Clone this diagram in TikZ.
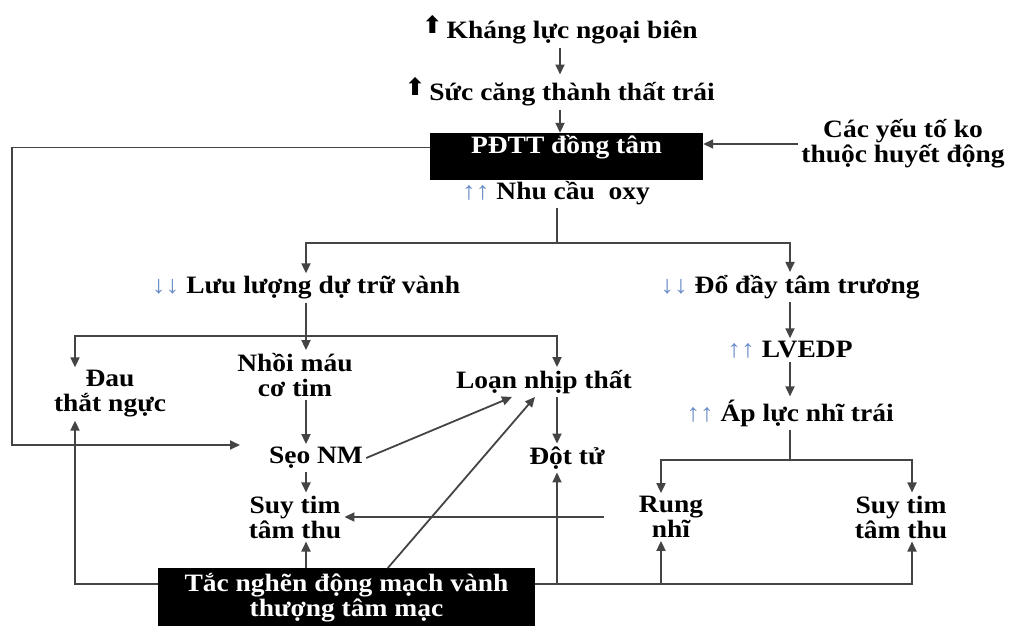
\documentclass[tikz,border=0pt]{standalone}
\usepackage{fontspec}
\setmainfont{Liberation Serif}[FakeStretch=1.1]
\newfontfamily\symfont{DejaVu Sans}
\usetikzlibrary{arrows.meta}
\definecolor{linec}{RGB}{68,68,68}
\definecolor{arrc}{RGB}{105,140,200}
\newcommand{\upp}{{\color{arrc}\mdseries ↑↑}}
\newcommand{\dnn}{{\color{arrc}\mdseries ↓↓}}
\newcommand{\bigup}{\raisebox{5pt}{\symfont\fontsize{24}{24}\selectfont ⬆}}

\begin{document}
\begin{tikzpicture}[x=1pt,y=-1pt,
    lbl/.style={font=\bfseries\fontsize{25}{25}\selectfont, align=center, inner sep=3pt},
    blk/.style={lbl, fill=black, text=white},
    ln/.style={draw=linec, line width=1.8pt},
    arr/.style={ln, -{Triangle[length=10pt,width=9pt]}}]
    \useasboundingbox (0,0) rectangle (1014,625);
    % top chain
    \node [lbl] (khang) at (560,30) {\bigup\,Kháng lực ngoại biên};
    \node [lbl] (sucang) at (560,92) {\bigup\,Sức căng thành thất trái};
    \node [blk,minimum width=273pt,inner sep=4.5pt,text height=16pt,text depth=22pt] (pdtt) at (566.5,156.5) {PĐTT đồng tâm};
    \node [lbl] (cacyeu) at (903,144) {Các yếu tố ko\\thuộc huyết động};
    \node [lbl] (nhucau) at (556,193) {\upp\ Nhu cầu\ \ oxy};
    % two branches
    \node [lbl] (luu) at (306,288) {\dnn\ Lưu lượng dự trữ vành};
    \node [lbl] (doday) at (790,287) {\dnn\ Đổ đầy tâm trương};
    \node [lbl] (lvedp) at (790,350) {\upp\ LVEDP};
    \node [lbl] (apluc) at (790,413) {\upp\ Áp lực nhĩ trái};
    \node [lbl] (dau) at (110,394) {Đau\\thắt ngực};
    \node [lbl] (nhoi) at (295,375) {Nhồi máu\\cơ tim};
    \node [lbl] (loan) at (544,382) {Loạn nhịp thất};
    \node [lbl] (seo) at (316,458) {Sẹo NM};
    \node [lbl] (dotu) at (567,458) {Đột tử};
    \node [lbl] (suy1) at (295,517) {Suy tim\\tâm thu};
    \node [lbl] (rung) at (671,517) {Rung\\nhĩ};
    \node [lbl] (suy2) at (901,517) {Suy tim\\tâm thu};
    \node [blk,minimum width=377pt,inner sep=5pt,anchor=north] (tac) at (346.5,568) {Tắc nghẽn động mạch vành\\thượng tâm mạc};
    \coordinate (split1) at (557,243);
    \coordinate (split2) at (306,336);
    \coordinate (split3) at (790,460);
    \coordinate (fbcorner) at (12,445);
    \coordinate (fbend) at (240,445);
    \coordinate (botl) at ([yshift=-16pt]tac.north west);
    \coordinate (botr) at ([yshift=-16pt]tac.north east);
    % arrows
    \draw [arr] (khang) -- (sucang);
    \draw [arr] (sucang) -- (sucang |- pdtt.north);
    \draw [arr] (cacyeu.west) -- (cacyeu.west -| pdtt.east);
    \draw [arr] ([yshift=6pt]pdtt.base west) -| (fbcorner) -- (fbend);
    \draw [ln] (nhucau.south -| split1) -- (split1);
    \draw [arr] (split1) -| (luu.north);
    \draw [arr] (split1) -| (doday.north);
    \draw [arr] (doday) -- (lvedp);
    \draw [arr] (lvedp) -- (apluc);
    \draw [ln] (apluc) -- (split3);
    \draw [arr] (split3) -| ([xshift=-10pt]rung.north);
    \draw [arr] (split3) -| ([xshift=11pt]suy2.north);
    \draw [ln] (luu) -- (split2);
    \draw [arr] (split2) -| ([xshift=-35pt]dau.north);
    \draw [arr] (split2) -- (split2 |- nhoi.north);
    \draw [arr] (split2) -| ([xshift=13pt]loan.north);
    \draw [arr] (nhoi.south -| split2) -- (split2 |- seo.north);
    \draw [arr] (seo.south -| split2) -- (split2 |- suy1.north);
    \draw [arr] (seo.east) -- ([xshift=-32pt]loan.south);
    \draw [arr] ([xshift=230pt]tac.north west) -- ([xshift=-9pt]loan.south);
    \draw [arr] ([xshift=13pt]loan.south) -- ([xshift=-10pt]dotu.north);
    \draw [arr] (botl) -| ([xshift=-35pt]dau.south);
    \draw [arr] (tac.north -| split2) -- (split2 |- suy1.south);
    \draw [arr] (botr) -| ([xshift=11pt]suy2.south);
    \draw [arr] ([xshift=-10pt]dotu.south |- botr) -- ([xshift=-10pt]dotu.south);
    \draw [arr] ([xshift=-10pt]rung.south |- botr) -- ([xshift=-10pt]rung.south);
    \draw [arr] ([xshift=-32pt]rung.west) -- (suy1.east);
\end{tikzpicture}
\end{document}
